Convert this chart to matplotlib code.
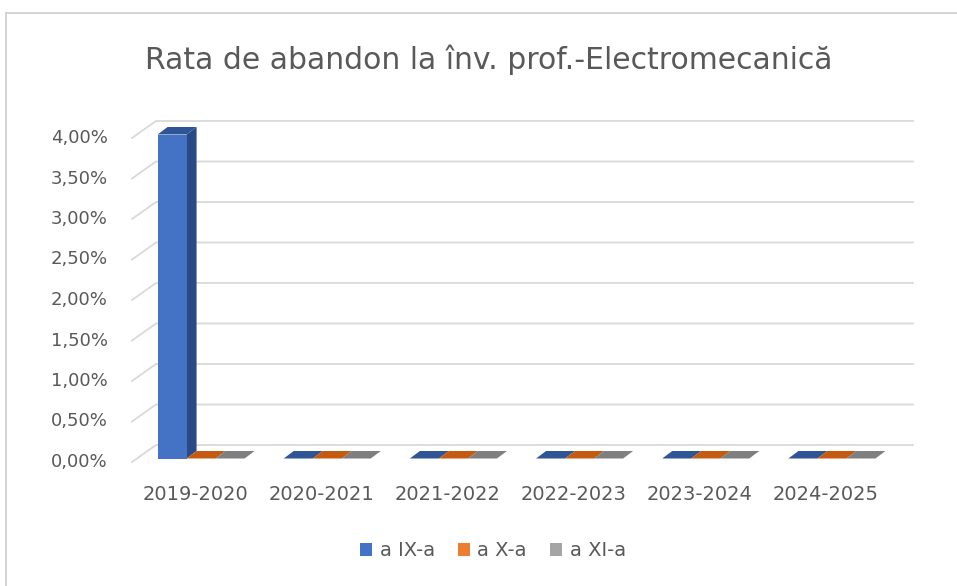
import matplotlib.pyplot as plt
from matplotlib.patches import Rectangle, Polygon, Patch

years = ['2019-2020', '2020-2021', '2021-2022', '2022-2023', '2023-2024', '2024-2025']
series_names = ['a IX-a', 'a X-a', 'a XI-a']
ix_a = [4.0, 0.0, 0.0, 0.0, 0.0, 0.0]
x_a = [0.0, 0.0, 0.0, 0.0, 0.0, 0.0]
xi_a = [0.0, 0.0, 0.0, 0.0, 0.0, 0.0]
yticks = [0, 0.5, 1.0, 1.5, 2.0, 2.5, 3.0, 3.5, 4.0]

# front, top, side colours per series
colors = [('#4472C4', '#2F5597', '#2A4A85'),
          ('#ED7D31', '#C55A11', '#A94B0E'),
          ('#A5A5A5', '#7F7F7F', '#6E6E6E')]
text_col = '#595959'
grid_col = '#D9D9D9'

W, H = 957, 586
fig = plt.figure(figsize=(W / 100, H / 100), dpi=100)
fig.patch.set_facecolor('white')

# axes placed in pixels (front plane of the 3d box)
left, right, bottom_px, top_px = 132, 889, 462, 138
ax = fig.add_axes([left / W, 1 - bottom_px / H, (right - left) / W, (bottom_px - top_px) / H])
ax.set_xlim(0, 6)
ax.set_ylim(0, 4)
ax.axis('off')

px_x = 6 / (right - left)
px_y = 4 / (bottom_px - top_px)

def off(dx, dy):
    return dx * px_x, dy * px_y

wall_dx, wall_dy = off(24, 17)
bf_dx, bf_dy = off(6, 3.5)
bb_dx, bb_dy = off(16, 11)

# chart border
fig.patches.append(Rectangle((6 / W, -0.1), 1.2, 1.1 - 13 / H, transform=fig.transFigure,
                             fill=False, edgecolor='#D0D0D0', lw=1.3))

# gridlines on left wall and back wall
for v in yticks:
    ax.plot([0, wall_dx, 6 + wall_dx], [v, v + wall_dy, v + wall_dy],
            color=grid_col, lw=1.3, clip_on=False, zorder=1)
    ax.text(-24 * px_x, v, ('%.2f%%' % v).replace('.', ','), ha='right', va='center',
            fontsize=13, color=text_col)

# bars
bw = 0.23
for i in range(len(years)):
    for s, vals in enumerate([ix_a, x_a, xi_a]):
        v = vals[i]
        x0 = i + 0.5 - 1.5 * bw + s * bw
        front, top, side = colors[s]
        fx, fy = x0 + bf_dx, bf_dy
        # side face
        ax.add_patch(Polygon([(fx + bw, fy), (fx + bw + bb_dx - bf_dx, fy + bb_dy - bf_dy),
                              (fx + bw + bb_dx - bf_dx, fy + v + bb_dy - bf_dy), (fx + bw, fy + v)],
                             closed=True, facecolor=side, edgecolor='none', zorder=3, clip_on=False))
        # top face
        ax.add_patch(Polygon([(fx, fy + v), (fx + bw, fy + v),
                              (x0 + bw + bb_dx, v + bb_dy), (x0 + bb_dx, v + bb_dy)],
                             closed=True, facecolor=top, edgecolor='none', zorder=3, clip_on=False))
        # front face
        if v > 0:
            ax.add_patch(Rectangle((fx, fy), bw, v, facecolor=front, edgecolor='none',
                                   zorder=3, clip_on=False))

for i, yr in enumerate(years):
    ax.text(i + 0.5, -32 * px_y, yr, ha='center', va='center', fontsize=14, color=text_col)

fig.text(489 / W, 1 - 60 / H, 'Rata de abandon la înv. prof.-Electromecanică',
         ha='center', va='center', fontsize=21.5, color=text_col)

handles = [Patch(facecolor=c[0], edgecolor='none') for c in colors]
fig.legend(handles, series_names, loc='center', bbox_to_anchor=(493 / W, 1 - 551 / H), ncol=3,
           frameon=False, fontsize=14, handlelength=0.6, handleheight=0.6,
           handletextpad=0.4, columnspacing=1.2, labelcolor=text_col)

fig.savefig('out.png', dpi=100)
